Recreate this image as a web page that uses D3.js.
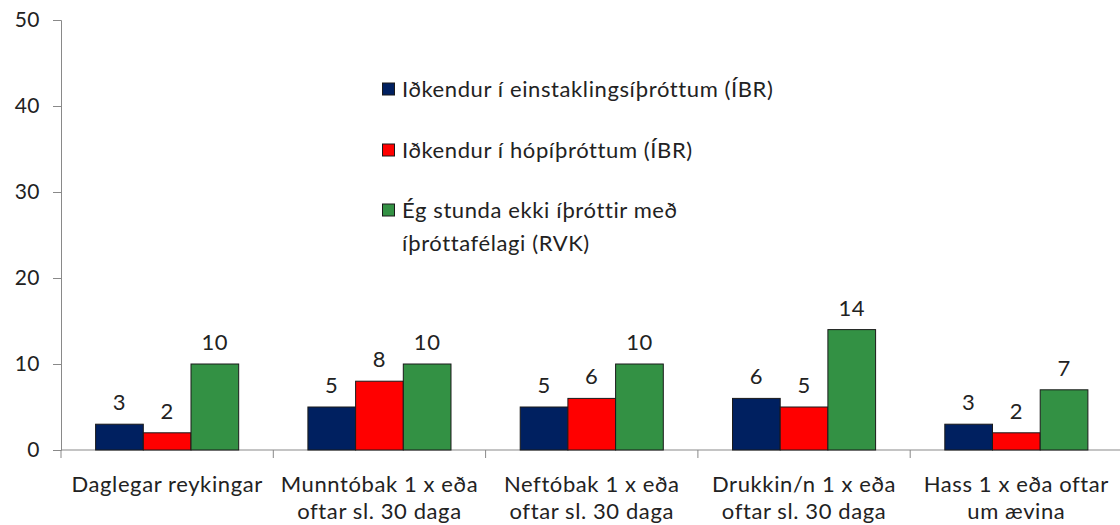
<!DOCTYPE html>
<html>
<head>
<meta charset="utf-8">
<script src="https://cdn.jsdelivr.net/npm/d3@7"></script>
<style>
  body { margin: 0; background: #fff; }
  svg { display: block; font-family: Lato, "Open Sans", sans-serif; }
</style>
</head>
<body>
<div id="vis"></div>
<script>
// data
const categories = [
  ["Daglegar reykingar"],
  ["Munntóbak 1 x eða", "oftar sl. 30 daga"],
  ["Neftóbak 1 x eða", "oftar sl. 30 daga"],
  ["Drukkin/n 1 x eða", "oftar sl. 30 daga"],
  ["Hass 1 x eða oftar", "um ævina"],
];
const seriesNames = [
  ["Iðkendur í einstaklingsíþróttum (ÍBR)"],
  ["Iðkendur í hópíþróttum (ÍBR)"],
  ["Ég stunda ekki íþróttir með", "íþróttafélagi (RVK)"],
];
const einstaklings = [3, 5, 5, 6, 3];
const hop = [2, 8, 6, 5, 2];
const ekki = [10, 10, 10, 14, 7];
const yTicks = [0, 10, 20, 30, 40, 50];

const colors = ["#002060", "#ff0000", "#339144"];
const series = [einstaklings, hop, ekki];

const W = 1120, H = 525;
const margin = { top: 20, right: 0, bottom: 75, left: 61 };
const plotW = 212.3 * 5;

const svg = d3.select("#vis").append("svg")
  .attr("width", W).attr("height", H);

const x = d3.scaleBand()
  .domain(d3.range(categories.length))
  .range([margin.left, margin.left + plotW])
  .paddingInner(0.326).paddingOuter(0.163);
const x1 = d3.scaleBand().domain([0, 1, 2]).range([0, x.bandwidth()]);
const y = d3.scaleLinear().domain([0, 50]).range([H - margin.bottom, margin.top]);

// y axis
const yAxis = svg.append("g")
  .attr("transform", `translate(${margin.left},0)`)
  .call(d3.axisLeft(y).tickValues(yTicks).tickSize(8).tickPadding(13));
yAxis.select(".domain").attr("stroke", "#898989");
yAxis.selectAll(".tick line").attr("stroke", "#898989");
yAxis.selectAll("text").attr("font-size", 21).attr("fill", "#222")
  .attr("font-family", "Lato, sans-serif").attr("letter-spacing", 0.5);

// x axis line and category ticks
const base = y(0);
svg.append("line")
  .attr("x1", margin.left).attr("x2", margin.left + plotW)
  .attr("y1", base).attr("y2", base)
  .attr("stroke", "#898989");
const step = plotW / categories.length;
svg.selectAll(".cattick").data(d3.range(categories.length + 1))
  .join("line")
  .attr("x1", (d) => margin.left + d * step).attr("x2", (d) => margin.left + d * step)
  .attr("y1", base).attr("y2", base + 8)
  .attr("stroke", "#898989");

// bars
const groups = svg.selectAll(".grp").data(categories)
  .join("g")
  .attr("transform", (d, i) => `translate(${x(i)},0)`);

series.forEach((vals, s) => {
  groups.append("rect")
    .attr("x", x1(s))
    .attr("y", (d, i) => y(vals[i]))
    .attr("width", x1.bandwidth())
    .attr("height", (d, i) => base - y(vals[i]))
    .attr("fill", colors[s])
    .attr("stroke", "#1a1a1a")
    .attr("stroke-width", 1);
  groups.append("text")
    .attr("x", x1(s) + x1.bandwidth() / 2)
    .attr("y", (d, i) => y(vals[i]) - 14)
    .attr("text-anchor", "middle")
    .attr("font-size", 22)
    .attr("letter-spacing", 0.5)
    .attr("fill", "#222")
    .text((d, i) => vals[i]);
});

// category labels
groups.append("text")
  .attr("text-anchor", "middle")
  .attr("font-size", 22)
  .attr("letter-spacing", 0.6)
  .attr("fill", "#222")
  .selectAll("tspan")
  .data((d) => d)
  .join("tspan")
  .attr("x", x.bandwidth() / 2)
  .attr("y", (d, i) => 492 + i * 27)
  .text((d) => d);

// legend
const legendY = [89, 150, 210];
const legend = svg.append("g");
seriesNames.forEach((lines, i) => {
  legend.append("rect")
    .attr("x", 382.5).attr("y", legendY[i] - 6)
    .attr("width", 12).attr("height", 12)
    .attr("fill", colors[i])
    .attr("stroke", "#1a1a1a");
  legend.append("text")
    .attr("font-size", 22)
    .attr("letter-spacing", 0.6)
    .attr("fill", "#222")
    .selectAll("tspan")
    .data(lines)
    .join("tspan")
    .attr("x", 402)
    .attr("y", (d, j) => legendY[i] + 8 + j * 33)
    .text((d) => d);
});
</script>
</body>
</html>
